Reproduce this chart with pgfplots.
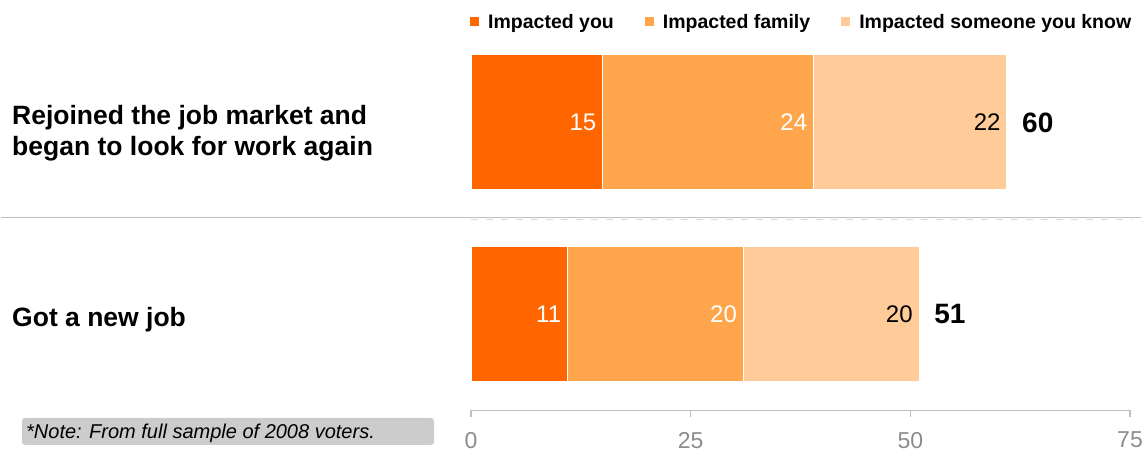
\documentclass[border=0pt]{standalone}
\usepackage{pgfplots}
\pgfplotsset{compat=1.18}
\usepackage{fontspec}
\setmainfont{Liberation Sans}
\definecolor{cA}{HTML}{FF6600}
\definecolor{cB}{HTML}{FFA64D}
\definecolor{cC}{HTML}{FFCC99}
\definecolor{axgray}{HTML}{BFBFBF}
\definecolor{dashgray}{HTML}{D9D9D9}
\definecolor{tickgray}{HTML}{8C8C8C}
\definecolor{notegray}{HTML}{CCCCCC}
\begin{document}
\begin{tikzpicture}
\path[use as bounding box] (0pt,0pt) rectangle (1144pt,454pt);
% separator
\draw[axgray, line width=1.6pt] (1pt,236.5pt) -- (1141pt,236.5pt);
\draw[dashgray, line width=1.6pt, dash pattern=on 7pt off 8pt] (471pt,234.5pt) -- (1132pt,234.5pt);
\begin{axis}[
 at={(471pt,43.5pt)}, anchor=south west,
 scale only axis, width=659pt, height=384pt,
 xmin=0, xmax=75, ymin=-0.5, ymax=1.5,
 xbar stacked, bar width=135pt,
 hide y axis,
 axis x line*=bottom,
 x axis line style={axgray, line width=1.2pt},
 xtick={0,25,50,75},
 tick style={axgray, line width=1.2pt},
 tick align=outside, major tick length=7pt,
 xticklabel style={font=\fontsize{23}{23}\selectfont, text=tickgray, yshift=-11pt},
 /pgf/number format/assume math mode=true,
 point meta=explicit symbolic,
 nodes near coords={\pgfplotspointmeta},
 legend style={at={(axis description cs:0,1)}, anchor=west, yshift=4.5pt, xshift=-2pt,
   draw=none, fill=none, inner sep=0pt,
   font=\bfseries\fontsize{19.5}{19.5}\selectfont,
   /tikz/every even column/.append style={column sep=28pt}},
 legend columns=3,
 legend image code/.code={\fill[#1] (0pt,-5pt) rectangle (10pt,5pt); \path (16pt,0pt);},
 clip=false,
]
\addplot[fill=cA, draw=white, line width=1pt,
  every node near coord/.append style={anchor=east, inner sep=0pt, xshift={\pgfplotspointmeta*4.3933-6}, text=white, font=\fontsize{24}{24}\selectfont}]
  coordinates {(15,1) [15] (11,0) [11]};
\addplot[fill=cB, draw=white, line width=1pt,
  every node near coord/.append style={anchor=east, inner sep=0pt, xshift={\pgfplotspointmeta*4.3933-6}, text=white, font=\fontsize{24}{24}\selectfont}]
  coordinates {(24,1) [24] (20,0) [20]};
\addplot[fill=cC, draw=white, line width=1pt,
  every node near coord/.append style={anchor=east, inner sep=0pt, xshift={\pgfplotspointmeta*4.3933-6}, text=black, font=\fontsize{24}{24}\selectfont}]
  coordinates {(22,1) [22] (20,0) [20]};
\legend{Impacted you, Impacted family, Impacted someone you know}
\node[anchor=west, inner sep=0pt, xshift=15pt, font=\bfseries\fontsize{28}{28}\selectfont] at (axis cs:61,1) {60};
\node[anchor=west, inner sep=0pt, xshift=15pt, font=\bfseries\fontsize{28}{28}\selectfont] at (axis cs:51,0) {51};
\end{axis}
% category labels
\node[anchor=base west, inner sep=0pt, font=\bfseries\fontsize{26.5}{26.5}\selectfont] at (12pt,329pt) {Rejoined the job market and};
\node[anchor=base west, inner sep=0pt, font=\bfseries\fontsize{26.5}{26.5}\selectfont] at (12pt,298pt) {began to look for work again};
\node[anchor=base west, inner sep=0pt, font=\bfseries\fontsize{26.5}{26.5}\selectfont] at (12pt,127pt) {Got a new job};
% note
\fill[notegray, rounded corners=3pt] (22pt,9pt) rectangle (434pt,36pt);
\node[anchor=base west, inner sep=0pt, font=\itshape\fontsize{20}{20}\selectfont] at (26pt,15pt) {*Note: From full sample of 2008 voters.};
\end{tikzpicture}
\end{document}
